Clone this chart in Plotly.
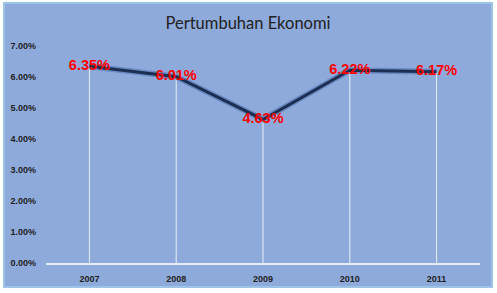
import plotly.graph_objects as go

years = ["2007", "2008", "2009", "2010", "2011"]
growth = [0.0635, 0.0601, 0.0463, 0.0622, 0.0617]
labels = ["6.35%", "6.01%", "4.63%", "6.22%", "6.17%"]
y_ticks = [0, 0.01, 0.02, 0.03, 0.04, 0.05, 0.06, 0.07]

W, H = 497, 293
ml, mr, mt, mb = 46, 17, 46, 30
pw, ph = W - ml - mr, H - mt - mb

def px_x(p):
    return (p - ml) / pw

def px_y(p):
    return (H - mb - p) / ph

fig = go.Figure()

# drop lines
fig.add_trace(go.Scatter(
    x=years, y=growth, mode="markers",
    marker=dict(size=0.1, color="rgba(0,0,0,0)"),
    error_y=dict(type="data", symmetric=False, array=[0]*len(growth),
                 arrayminus=growth, color="rgba(255,255,255,0.8)",
                 thickness=1, width=0),
    hoverinfo="skip", showlegend=False))

# glow
fig.add_trace(go.Scatter(
    x=years, y=growth, mode="lines",
    line=dict(color="rgba(60,100,165,0.45)", width=6),
    hoverinfo="skip", showlegend=False))

fig.add_trace(go.Scatter(
    x=years, y=growth, mode="lines+text",
    line=dict(color="#1C2F50", width=3),
    text=labels, textposition="middle center",
    textfont=dict(family="Liberation Sans, Arial", size=14.5, color="#FF0000", weight="bold"),
    showlegend=False))

fig.update_layout(
    width=W, height=H,
    margin=dict(l=ml, r=mr, t=mt, b=mb),
    paper_bgcolor="white",
    plot_bgcolor="rgba(0,0,0,0)",
    title=dict(text="Pertumbuhan Ekonomi", x=248 / W, xanchor="center",
               y=1 - 23 / H, yanchor="middle",
               font=dict(family="Lato, Open Sans", size=16.5, color="#222222")),
    xaxis=dict(type="category", range=[-0.5, 4.5], showgrid=False,
               showline=True, linecolor="#E6ECF7", linewidth=2,
               ticks="", ticklabelstandoff=6, automargin=False,
               tickfont=dict(family="Liberation Sans, Arial", size=9, color="#222222", weight="bold"),
               zeroline=False, fixedrange=True),
    yaxis=dict(range=[0, 0.07], tickvals=y_ticks, tickformat=".2%",
               showgrid=False, zeroline=False, showline=False, ticks="",
               ticklabelstandoff=9, automargin=False,
               tickfont=dict(family="Liberation Sans, Arial", size=9, color="#222222", weight="bold"),
               fixedrange=True),
    shapes=[dict(type="rect", xref="paper", yref="paper", layer="below",
                 x0=px_x(4), x1=px_x(492), y0=px_y(287), y1=px_y(3),
                 fillcolor="#8EAADB", line=dict(color="#9DC3E6", width=2))],
)

fig.write_html("out.html")
